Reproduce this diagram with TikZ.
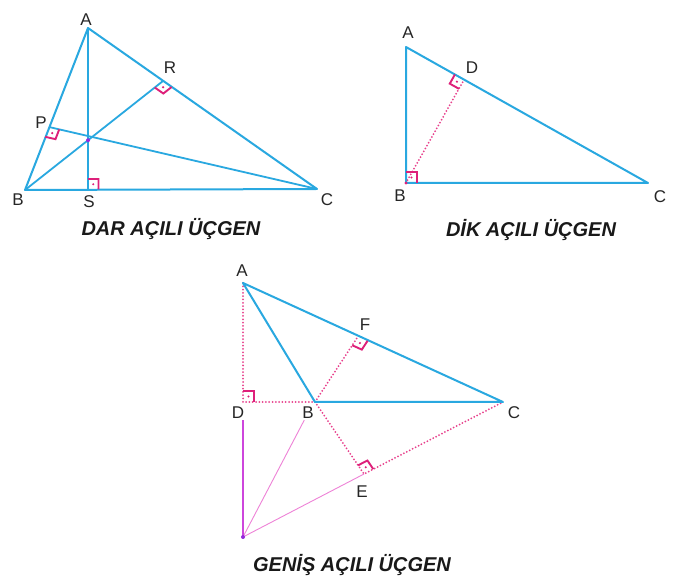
\documentclass[tikz,border=0pt]{standalone}
\usepackage{fontspec}
\setmainfont{Liberation Sans}
\usetikzlibrary{calc}
\definecolor{triblue}{RGB}{41,168,224}
\definecolor{markpink}{RGB}{222,32,122}
\definecolor{dotpink}{RGB}{232,64,140}
\definecolor{violetline}{RGB}{205,70,220}
\definecolor{thinpink}{RGB}{238,130,215}
\definecolor{hdot}{RGB}{150,40,220}
\tikzset{
  side/.style={draw=triblue,line width=2pt,line join=round},
  dotline/.style={draw=dotpink,line width=2pt,line cap=round,dash pattern=on 0pt off 3.3pt},
  ramk/.style={draw=markpink,line width=1.9pt,line join=miter},
  ramkdot/.style={fill=markpink},
  violet/.style={draw=violetline,line width=1.8pt},
  thinp/.style={draw=thinpink,line width=0.9pt},
  lbl/.style={font=\fontsize{17}{20}\selectfont,inner sep=1pt,text=black!85},
  ttl/.style={font=\fontsize{20}{24}\selectfont\bfseries\itshape,inner sep=1pt,text=black!90},
}
\newcommand\ramark[4][10.5pt]{%
  \draw[ramk] ($(#2)!#1!(#3)$) -- ($(#2)!#1!(#3)+(#2)!#1!(#4)-(#2)$) -- ($(#2)!#1!(#4)$);
  \fill[ramkdot] ($(#2)!0.5*#1!(#3)+(#2)!0.5*#1!(#4)-(#2)$) circle (1.2pt);}
\begin{document}
\begin{tikzpicture}[x=1pt,y=-1pt]
\useasboundingbox[fill=white] (0,0) rectangle (697,585);
% ---------- Triangle 1: DAR ACILI ----------
\coordinate (A1) at (88,28);
\coordinate (B1) at (25,190);
\coordinate (C1) at (317,189);
\coordinate (S1) at (88,189.5);
\coordinate (R1) at (163,81);
\coordinate (P1) at (49,127);
\draw[side] (A1) -- (B1) -- (C1) -- cycle;
\draw[side,line width=1.8pt] (A1) -- (S1);
\draw[side,line width=1.8pt] (B1) -- (R1);
\draw[side,line width=1.8pt] (C1) -- (P1);
\ramark{S1}{A1}{C1}
\ramark{R1}{B1}{C1}
\ramark{P1}{C1}{B1}
\coordinate (H1) at (intersection of A1--S1 and B1--R1);
\fill[hdot] (H1) circle (2pt);
\node[lbl] (lA1) at (86,20) {A};
\node[lbl] (lR1) at (170,68) {R};
\node[lbl] (lP1) at (41,123) {P};
\node[lbl] (lB1) at (18,200) {B};
\node[lbl] (lS1) at (89,202) {S};
\node[lbl] (lC1) at (327,200) {C};
\node[ttl] (t1) at (171,229) {DAR AÇILI ÜÇGEN};
% ---------- Triangle 2: DIK ACILI ----------
\coordinate (A2) at (406,47);
\coordinate (B2) at (406,183);
\coordinate (C2) at (648,183);
\coordinate (D2) at ($(A2)!(B2)!(C2)$);
\draw[side] (A2) -- (B2) -- (C2) -- cycle;
\draw[dotline] (B2) -- (D2);
\ramark[11pt]{B2}{A2}{C2}
\ramark{D2}{B2}{A2}
\fill[markpink] (B2) circle (1.6pt);
\node[lbl] (lA2) at (408,33) {A};
\node[lbl] (lD2) at (472,68) {D};
\node[lbl] (lB2) at (400,196) {B};
\node[lbl] (lC2) at (660,197) {C};
\node[ttl] (t2) at (531,230) {DİK AÇILI ÜÇGEN};
% ---------- Triangle 3: GENIS ACILI ----------
\coordinate (A3) at (243,283);
\coordinate (B3) at (315,402);
\coordinate (C3) at (503,402);
\coordinate (D3) at (243,402);
\coordinate (F3) at (358,336.5);
\coordinate (E3) at (364,474);
\coordinate (O3) at (243,537);
\node[lbl] (lA3) at (242,271) {A};
\node[lbl] (lF3) at (365,325) {F};
\node[lbl] (lD3) at (238,413) {D};
\node[lbl] (lB3) at (308,413) {B};
\node[lbl] (lC3) at (514,413) {C};
\node[lbl] (lE3) at (362,492) {E};
\draw[thinp] (O3) -- (lB3);
\draw[thinp] (O3) -- (E3);
\draw[violet] (lD3.south -| D3) -- (O3);
\draw[dotline] (A3) -- (D3) -- (B3);
\draw[dotline] (B3) -- (F3);
\draw[dotline] (B3) -- (E3) -- (C3);
\draw[side] (A3) -- (B3) -- (C3) -- cycle;
\ramark[11pt]{D3}{A3}{B3}
\ramark{F3}{B3}{C3}
\ramark{E3}{B3}{C3}
\fill[hdot] (O3) circle (2pt);
\node[ttl] (t3) at (352,565) {GENİŞ AÇILI ÜÇGEN};
\end{tikzpicture}
\end{document}
